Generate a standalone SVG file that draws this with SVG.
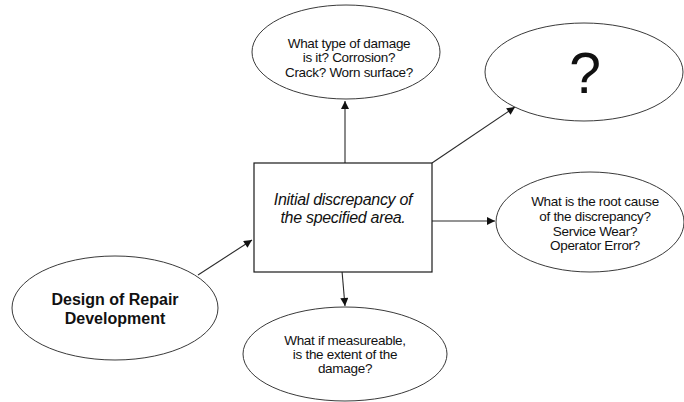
<svg xmlns="http://www.w3.org/2000/svg" width="684" height="402" viewBox="0 0 684 402">
  <style>
    .shape { fill: #ffffff; stroke: #3a3a3a; stroke-width: 1; }
    .box { fill: #ffffff; stroke: #1a1a1a; stroke-width: 1.2; }
    .link { stroke: #2a2a2a; stroke-width: 1.1; fill: none; marker-end: url(#arrow); }
    .t { font-family: "Liberation Sans", Arial, sans-serif; font-size: 13.5px; letter-spacing: -0.3px; fill: #111; text-anchor: middle; }
    .ti { font-family: "Liberation Sans", Arial, sans-serif; font-size: 16px; font-style: italic; letter-spacing: -0.3px; fill: #111; text-anchor: middle; }
    .tb { font-family: "Liberation Sans", Arial, sans-serif; font-size: 16px; font-weight: bold; fill: #111; text-anchor: middle; }
    .tq { font-family: "Liberation Sans", Arial, sans-serif; font-size: 57px; fill: #111; text-anchor: middle; }
  </style>
  <defs>
    <marker id="arrow" viewBox="0 0 10 10" refX="10" refY="5" markerWidth="10" markerHeight="8" markerUnits="userSpaceOnUse" orient="auto">
      <path d="M0,0 L10,5 L0,10 Z" fill="#111"/>
    </marker>
  </defs>
  <rect width="684" height="402" fill="#ffffff"/>

  <g id="connectors">
    <line class="link" x1="345" y1="163" x2="345" y2="101"/>
    <line class="link" x1="432" y1="163" x2="515" y2="107"/>
    <line class="link" x1="432" y1="221" x2="495" y2="221"/>
    <line class="link" x1="342" y1="271" x2="345" y2="306"/>
    <line class="link" x1="198" y1="275" x2="252" y2="240"/>
  </g>

  <g id="damage-type">
    <ellipse class="shape" cx="346" cy="52" rx="94" ry="47"/>
    <text class="t" x="349" y="48">What type of damage</text>
    <text class="t" x="349" y="62">is it? Corrosion?</text>
    <text class="t" x="349" y="77">Crack? Worn surface?</text>
  </g>

  <g id="unknown">
    <ellipse class="shape" cx="584" cy="72" rx="99" ry="49"/>
    <text class="tq" x="585" y="93">?</text>
  </g>

  <g id="discrepancy">
    <rect class="box" x="254" y="163" width="178" height="109"/>
    <text class="ti" x="343" y="205">Initial discrepancy of</text>
    <text class="ti" x="343" y="223">the specified area.</text>
  </g>

  <g id="root-cause">
    <ellipse class="shape" cx="590" cy="222" rx="94" ry="50"/>
    <text class="t" x="595" y="206">What is the root cause</text>
    <text class="t" x="595" y="221">of the discrepancy?</text>
    <text class="t" x="595" y="236">Service Wear?</text>
    <text class="t" x="595" y="250">Operator Error?</text>
  </g>

  <g id="repair-design">
    <ellipse class="shape" cx="115" cy="308" rx="103" ry="52"/>
    <text class="tb" x="115" y="305">Design of Repair</text>
    <text class="tb" x="115" y="324">Development</text>
  </g>

  <g id="extent">
    <ellipse class="shape" cx="345" cy="354" rx="102" ry="47"/>
    <text class="t" x="345" y="345">What if measureable,</text>
    <text class="t" x="345" y="359">is the extent of the</text>
    <text class="t" x="345" y="373">damage?</text>
  </g>
</svg>
